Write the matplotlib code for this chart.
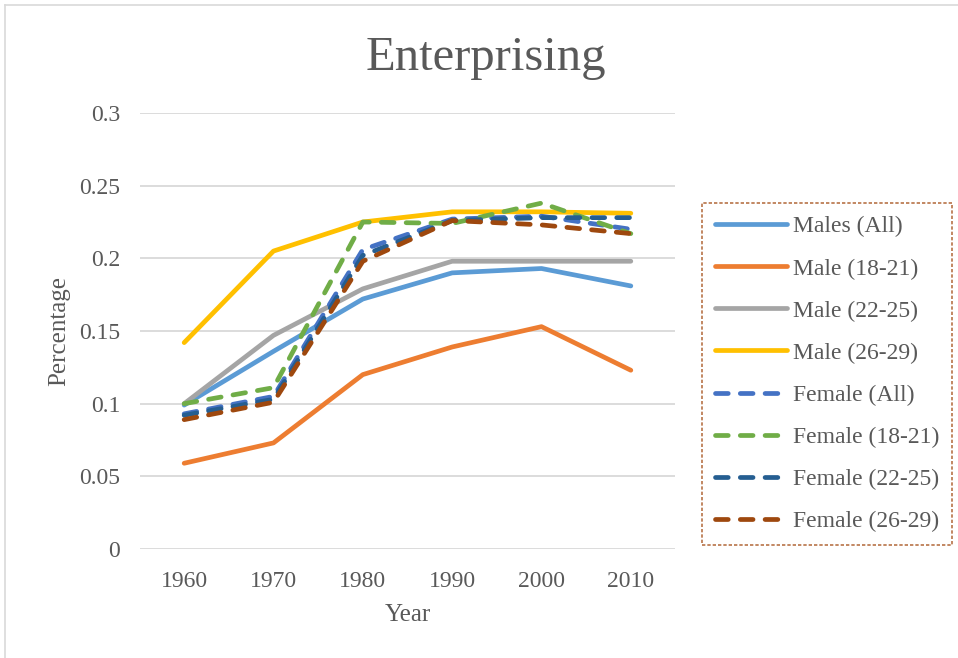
import matplotlib
matplotlib.use("Agg")
import matplotlib.pyplot as plt
from matplotlib.lines import Line2D

plt.rcParams['font.family'] = ['Liberation Serif', 'DejaVu Serif']

years = ['1960', '1970', '1980', '1990', '2000', '2010']

males_all = [0.099, 0.136, 0.172, 0.190, 0.193, 0.181]
male_18_21 = [0.059, 0.073, 0.120, 0.139, 0.153, 0.123]
male_22_25 = [0.100, 0.147, 0.179, 0.198, 0.198, 0.198]
male_26_29 = [0.142, 0.205, 0.225, 0.232, 0.232, 0.231]
female_all = [0.093, 0.105, 0.206, 0.227, 0.229, 0.220]
female_18_21 = [0.100, 0.111, 0.225, 0.224, 0.238, 0.217]
female_22_25 = [0.092, 0.103, 0.202, 0.226, 0.228, 0.228]
female_26_29 = [0.089, 0.101, 0.198, 0.226, 0.223, 0.217]

series = [
    ("Males (All)", males_all, '#5B9BD5', '-'),
    ("Male (18-21)", male_18_21, '#ED7D31', '-'),
    ("Male (22-25)", male_22_25, '#A5A5A5', '-'),
    ("Male (26-29)", male_26_29, '#FFC000', '-'),
    ("Female (All)", female_all, '#4472C4', '--'),
    ("Female (18-21)", female_18_21, '#70AD47', '--'),
    ("Female (22-25)", female_22_25, '#255E91', '--'),
    ("Female (26-29)", female_26_29, '#9E480E', '--'),
]

text_color = '#595959'

fig = plt.figure(figsize=(9.58, 6.58), dpi=100)
ax = fig.add_axes([139.5 / 958, 1 - 549 / 658, 536 / 958, 436 / 658])

x = list(range(len(years)))
for label, vals, color, style in series:
    line, = ax.plot(x, vals, color=color, lw=3.4, label=label,
                    solid_capstyle='round', dash_capstyle='round')
    if style == '--':
        line.set_dashes((2.7, 2.55))

ax.set_xlim(-0.5, len(years) - 0.5)
ax.set_ylim(0, 0.3)
ax.set_yticks([0, 0.05, 0.1, 0.15, 0.2, 0.25, 0.3])
ax.set_yticklabels(['0', '0.05', '0.1', '0.15', '0.2', '0.25', '0.3'])
ax.set_xticks(x)
ax.set_xticklabels(years)
ax.tick_params(axis='both', length=0, labelsize=17, labelcolor=text_color)
ax.tick_params(axis='x', pad=16)
ax.tick_params(axis='y', pad=14)
ax.grid(axis='y', color='#D9D9D9', lw=1.3)
ax.set_axisbelow(True)
for s in ax.spines.values():
    s.set_visible(False)

fig.text(486 / 958, 1 - 70 / 658, "Enterprising", ha='center', va='baseline',
         fontsize=35, color=text_color)
fig.text(408 / 958, 1 - 615 / 658, "Year", ha='center', va='center',
         fontsize=18, color=text_color)
fig.text(59 / 958, 1 - 331 / 658, "Percentage", ha='center', va='center',
         rotation=90, fontsize=18, color=text_color)

leg = fig.legend(loc='upper left', bbox_to_anchor=(702 / 958, 1 - 203 / 658),
                 bbox_transform=fig.transFigure, borderaxespad=0,
                 fontsize=17, handlelength=3.05, handletextpad=0.25,
                 labelspacing=0.87, borderpad=0.55, fancybox=False,
                 labelcolor=text_color)
frame = leg.get_frame()
frame.set_edgecolor('#A5501A')
frame.set_linestyle((0, (2, 1.2)))
frame.set_linewidth(1.2)

# thin outer border along the top and left edges
fig.add_artist(Line2D([5 / 958, 5 / 958], [0, 1 - 5 / 658], transform=fig.transFigure,
                      color='#D9D9D9', lw=1.2))
fig.add_artist(Line2D([5 / 958, 1], [1 - 5 / 658, 1 - 5 / 658], transform=fig.transFigure,
                      color='#D9D9D9', lw=1.2))

fig.savefig('out.png', dpi=100)
